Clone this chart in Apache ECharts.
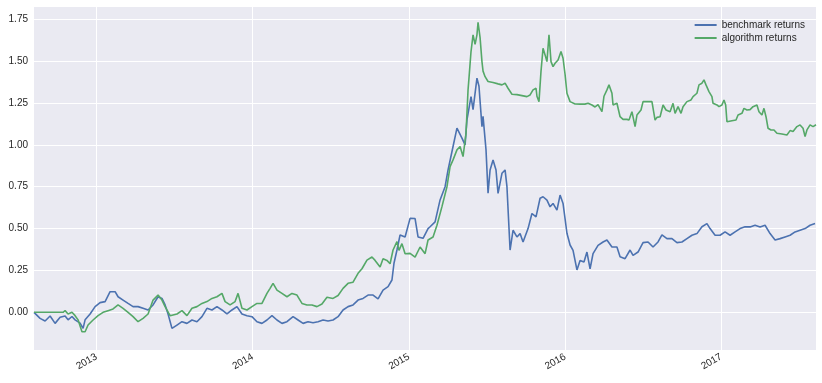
<!DOCTYPE html>
<html>
<head>
<meta charset="utf-8">
<script src="https://cdn.jsdelivr.net/npm/echarts@6/dist/echarts.min.js"></script>
<style>
html,body{margin:0;padding:0;background:#fff;}
#c{width:822px;height:383px;}
</style>
</head>
<body>
<div id="c"></div>
<script>
// time in decimal years
const benchT = [2012.601,2012.640,2012.672,2012.704,2012.736,2012.768,2012.800,2012.819,2012.844,2012.864,2012.896,2012.915,2012.928,2012.960,2012.992,2013.024,2013.056,2013.088,2013.120,2013.139,2013.171,2013.203,2013.235,2013.267,2013.299,2013.331,2013.363,2013.395,2013.420,2013.440,2013.459,2013.484,2013.516,2013.548,2013.580,2013.612,2013.644,2013.676,2013.708,2013.740,2013.772,2013.804,2013.836,2013.868,2013.900,2013.932,2013.964,2013.996,2014.028,2014.060,2014.092,2014.124,2014.156,2014.188,2014.220,2014.259,2014.291,2014.323,2014.355,2014.387,2014.419,2014.451,2014.483,2014.515,2014.547,2014.579,2014.611,2014.643,2014.675,2014.707,2014.739,2014.771,2014.803,2014.835,2014.867,2014.892,2014.905,2014.924,2014.944,2014.976,2015.008,2015.040,2015.059,2015.091,2015.123,2015.136,2015.168,2015.200,2015.232,2015.251,2015.283,2015.308,2015.340,2015.360,2015.372,2015.398,2015.411,2015.436,2015.449,2015.468,2015.475,2015.494,2015.507,2015.520,2015.539,2015.558,2015.571,2015.596,2015.616,2015.628,2015.648,2015.667,2015.692,2015.712,2015.731,2015.763,2015.788,2015.814,2015.840,2015.859,2015.884,2015.904,2015.923,2015.948,2015.968,2015.987,2016.012,2016.032,2016.051,2016.076,2016.096,2016.121,2016.140,2016.160,2016.179,2016.211,2016.243,2016.268,2016.300,2016.332,2016.352,2016.384,2016.416,2016.435,2016.467,2016.499,2016.531,2016.563,2016.595,2016.620,2016.652,2016.684,2016.716,2016.748,2016.780,2016.812,2016.844,2016.876,2016.908,2016.928,2016.960,2016.992,2017.024,2017.056,2017.088,2017.120,2017.152,2017.184,2017.216,2017.248,2017.280,2017.312,2017.344,2017.376,2017.408,2017.440,2017.472,2017.504,2017.536,2017.568,2017.600];
const benchV = [0.00,-0.036,-0.052,-0.022,-0.066,-0.030,-0.022,-0.045,-0.025,-0.045,-0.065,-0.096,-0.045,-0.010,0.034,0.058,0.064,0.123,0.123,0.093,0.073,0.053,0.034,0.034,0.024,0.014,0.044,0.093,0.083,0.044,-0.010,-0.096,-0.076,-0.056,-0.066,-0.046,-0.056,-0.026,0.024,0.014,0.034,0.014,-0.010,0.014,0.034,-0.010,-0.020,-0.026,-0.056,-0.066,-0.046,-0.020,-0.046,-0.066,-0.056,-0.026,-0.046,-0.066,-0.056,-0.062,-0.056,-0.046,-0.052,-0.046,-0.026,0.014,0.034,0.044,0.073,0.083,0.103,0.103,0.080,0.133,0.153,0.193,0.293,0.372,0.462,0.450,0.561,0.560,0.450,0.442,0.500,0.511,0.540,0.671,0.750,0.850,0.990,1.100,1.040,1.000,1.149,1.288,1.210,1.398,1.350,1.109,1.170,0.970,0.711,0.850,0.910,0.850,0.710,0.830,0.850,0.750,0.372,0.490,0.450,0.470,0.420,0.500,0.590,0.570,0.681,0.690,0.670,0.630,0.650,0.610,0.700,0.650,0.472,0.402,0.370,0.253,0.310,0.300,0.360,0.260,0.350,0.400,0.420,0.432,0.390,0.390,0.332,0.320,0.372,0.340,0.360,0.416,0.420,0.390,0.420,0.462,0.440,0.440,0.416,0.420,0.440,0.460,0.470,0.511,0.530,0.500,0.460,0.460,0.480,0.460,0.480,0.500,0.511,0.510,0.520,0.510,0.520,0.470,0.432,0.440,0.450,0.460,0.480,0.490,0.500,0.520,0.530];

const algoT = [2012.601,2012.640,2012.704,2012.787,2012.800,2012.819,2012.844,2012.864,2012.883,2012.908,2012.928,2012.947,2012.979,2013.011,2013.043,2013.075,2013.107,2013.139,2013.171,2013.203,2013.235,2013.267,2013.299,2013.331,2013.363,2013.395,2013.420,2013.440,2013.472,2013.516,2013.548,2013.580,2013.612,2013.644,2013.676,2013.708,2013.740,2013.772,2013.804,2013.824,2013.856,2013.888,2013.907,2013.932,2013.964,2013.996,2014.028,2014.060,2014.092,2014.112,2014.131,2014.156,2014.188,2014.220,2014.252,2014.284,2014.316,2014.348,2014.380,2014.412,2014.444,2014.476,2014.515,2014.547,2014.579,2014.611,2014.643,2014.675,2014.700,2014.732,2014.764,2014.784,2014.816,2014.835,2014.860,2014.880,2014.899,2014.924,2014.937,2014.956,2014.976,2015.008,2015.040,2015.072,2015.104,2015.123,2015.155,2015.180,2015.212,2015.244,2015.264,2015.283,2015.308,2015.328,2015.347,2015.366,2015.379,2015.385,2015.398,2015.411,2015.424,2015.436,2015.443,2015.456,2015.468,2015.475,2015.488,2015.507,2015.539,2015.571,2015.596,2015.616,2015.635,2015.660,2015.692,2015.724,2015.756,2015.776,2015.795,2015.814,2015.820,2015.833,2015.846,2015.859,2015.872,2015.884,2015.897,2015.910,2015.923,2015.936,2015.955,2015.974,2015.987,2016.000,2016.012,2016.032,2016.064,2016.096,2016.127,2016.147,2016.172,2016.192,2016.211,2016.236,2016.249,2016.268,2016.281,2016.300,2016.307,2016.332,2016.352,2016.371,2016.396,2016.409,2016.428,2016.448,2016.460,2016.486,2016.499,2016.511,2016.531,2016.556,2016.576,2016.588,2016.608,2016.627,2016.646,2016.672,2016.691,2016.704,2016.723,2016.742,2016.755,2016.780,2016.806,2016.819,2016.844,2016.857,2016.876,2016.889,2016.902,2016.921,2016.940,2016.947,2016.972,2016.985,2017.004,2017.017,2017.028,2017.036,2017.068,2017.094,2017.107,2017.132,2017.145,2017.164,2017.184,2017.203,2017.228,2017.241,2017.260,2017.273,2017.286,2017.299,2017.318,2017.337,2017.356,2017.388,2017.420,2017.440,2017.459,2017.484,2017.504,2017.523,2017.536,2017.548,2017.568,2017.587,2017.606];
const algoV = [0.000,0.000,0.000,0.000,0.010,-0.010,0.000,-0.020,-0.045,-0.116,-0.116,-0.076,-0.046,-0.020,0.000,0.010,0.020,0.044,0.024,0.000,-0.026,-0.056,-0.036,-0.010,0.073,0.103,0.073,0.034,-0.020,-0.010,0.010,-0.020,0.024,0.034,0.053,0.064,0.083,0.093,0.113,0.064,0.044,0.064,0.113,0.024,0.014,0.034,0.053,0.053,0.113,0.143,0.173,0.133,0.113,0.093,0.113,0.103,0.053,0.044,0.044,0.034,0.050,0.090,0.083,0.100,0.143,0.173,0.180,0.233,0.260,0.312,0.330,0.310,0.270,0.320,0.310,0.290,0.372,0.422,0.370,0.410,0.350,0.352,0.330,0.390,0.350,0.432,0.450,0.520,0.631,0.750,0.870,0.910,0.970,0.990,0.930,1.069,1.328,1.398,1.557,1.657,1.600,1.657,1.732,1.640,1.497,1.440,1.407,1.378,1.372,1.364,1.358,1.368,1.338,1.302,1.300,1.294,1.288,1.298,1.328,1.338,1.290,1.258,1.440,1.577,1.537,1.497,1.657,1.497,1.467,1.487,1.507,1.557,1.517,1.420,1.308,1.258,1.244,1.243,1.243,1.248,1.238,1.226,1.240,1.198,1.290,1.328,1.358,1.308,1.238,1.248,1.168,1.152,1.152,1.148,1.198,1.109,1.178,1.208,1.258,1.268,1.258,1.258,1.148,1.164,1.168,1.238,1.208,1.198,1.248,1.188,1.228,1.188,1.228,1.258,1.268,1.288,1.308,1.358,1.368,1.388,1.358,1.318,1.288,1.248,1.238,1.228,1.238,1.268,1.238,1.138,1.144,1.148,1.178,1.188,1.218,1.208,1.210,1.228,1.238,1.198,1.178,1.218,1.168,1.099,1.089,1.089,1.069,1.065,1.059,1.085,1.080,1.109,1.119,1.099,1.049,1.089,1.119,1.109,1.120];

const yearTicks = [2013, 2014, 2015, 2016, 2017];
const yTicks = [0, 0.25, 0.5, 0.75, 1.0, 1.25, 1.5, 1.75];
const seriesNames = ['benchmark returns', 'algorithm returns'];
const colors = ['#4C72B0', '#55A868'];

const chart = echarts.init(document.getElementById('c'), null, {renderer: 'canvas'});
const font = 'Liberation Sans, Arial, sans-serif';
chart.setOption({
  animation: false,
  backgroundColor: '#ffffff',
  color: colors,
  grid: {left: 34, right: 6, top: 7, bottom: 33, show: true, backgroundColor: '#EAEAF2', borderWidth: 0},
  legend: {
    orient: 'vertical', right: 12, top: 14, itemGap: 1,
    icon: 'rect', itemWidth: 22, itemHeight: 2,
    textStyle: {fontFamily: font, fontSize: 10, color: '#262626', lineHeight: 12},
    data: seriesNames
  },
  xAxis: {
    type: 'value', min: 2012.601, max: 2017.606,
    axisLine: {show: false},
    axisTick: {show: false, customValues: yearTicks},
    axisLabel: {customValues: yearTicks, rotate: 30, margin: 6, fontFamily: font, fontSize: 10, color: '#262626',
      formatter: v => String(v)},
    splitLine: {show: true, lineStyle: {color: '#ffffff', width: 1}}
  },
  yAxis: {
    type: 'value', min: -0.225, max: 1.823,
    axisLine: {show: false},
    axisTick: {show: false, customValues: yTicks},
    axisLabel: {customValues: yTicks, margin: 6, fontFamily: font, fontSize: 10, color: '#262626',
      formatter: v => v.toFixed(2)},
    splitLine: {show: true, lineStyle: {color: '#ffffff', width: 1}}
  },
  series: [
    {name: seriesNames[0], type: 'line', symbol: 'none', lineStyle: {width: 1.6, color: colors[0]},
     data: benchT.map((t, i) => [t, benchV[i]])},
    {name: seriesNames[1], type: 'line', symbol: 'none', lineStyle: {width: 1.6, color: colors[1]},
     data: algoT.map((t, i) => [t, algoV[i]])}
  ]
});
</script>
</body>
</html>
